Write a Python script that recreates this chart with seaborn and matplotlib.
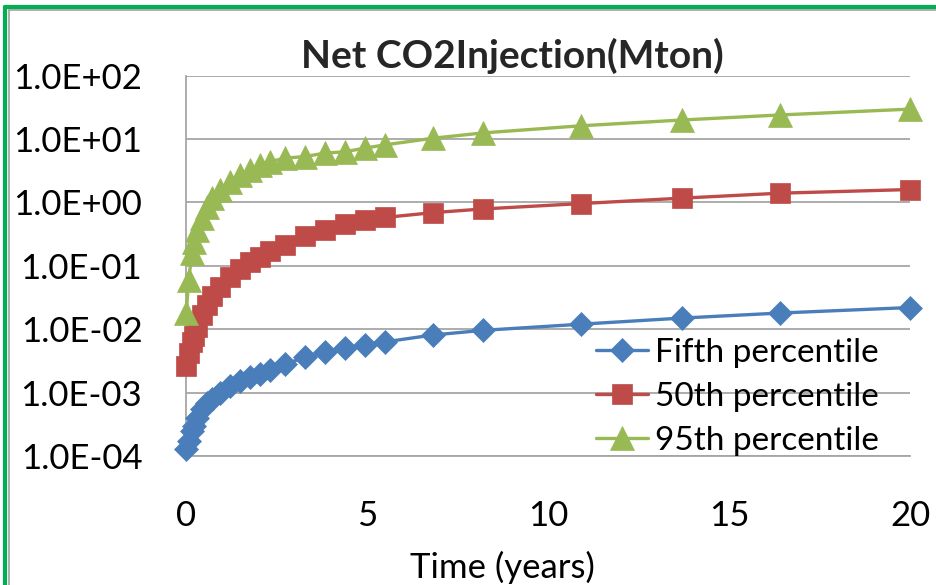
import numpy as np
import pandas as pd
import matplotlib
matplotlib.use("Agg")
import matplotlib.pyplot as plt
from matplotlib.lines import Line2D
import seaborn as sns

# ---- data ----
time_years = [0.01, 0.07, 0.17, 0.21, 0.30, 0.44, 0.58, 0.72, 0.94, 1.22, 1.50, 1.77,
              2.05, 2.32, 2.73, 3.28, 3.83, 4.38, 4.94, 5.49, 6.81, 8.20, 10.9, 13.7,
              16.4, 20.0]
fifth_pct = [1.3e-4, 1.7e-4, 2.5e-4, 3.0e-4, 4.0e-4, 5.5e-4, 6.8e-4, 8.0e-4, 1.0e-3,
             1.25e-3, 1.5e-3, 1.75e-3, 2.0e-3, 2.3e-3, 2.8e-3, 3.6e-3, 4.3e-3, 5.0e-3,
             5.7e-3, 6.3e-3, 8.1e-3, 9.6e-3, 1.2e-2, 1.5e-2, 1.8e-2, 2.2e-2]
p50 = [0.0026, 0.0042, 0.0062, 0.0078, 0.011, 0.017, 0.024, 0.033, 0.046, 0.066,
       0.090, 0.115, 0.14, 0.17, 0.21, 0.30, 0.37, 0.45, 0.52, 0.58, 0.69, 0.79,
       0.96, 1.17, 1.40, 1.60]
p95 = [0.018, 0.060, 0.158, 0.24, 0.37, 0.56, 0.86, 1.17, 1.58, 2.14, 2.7, 3.25,
       3.9, 4.4, 5.0, 5.3, 6.0, 6.3, 7.2, 8.1, 10.3, 12.5, 16.2, 20.0, 24.0, 29.7]
series_names = ["Fifth percentile", "50th percentile", "95th percentile"]
y_tick_values = [1e-4, 1e-3, 1e-2, 1e-1, 1e0, 1e1, 1e2]
y_tick_labels = ["1.0E-04", "1.0E-03", "1.0E-02", "1.0E-01", "1.0E+00", "1.0E+01", "1.0E+02"]
x_tick_values = [0, 5, 10, 15, 20]

sns.set_style("white")
plt.rcParams["font.family"] = ["Lato", "DejaVu Sans"]

W, H = 936, 585
fig = plt.figure(figsize=(W / 100, H / 100), dpi=100)
ax = fig.add_axes([186 / W, 1 - 456 / H, (910 - 186) / W, (456 - 75.7) / H])

colors = ["#4A7EBB", "#BE4B48", "#98B954"]
markers = ["D", "s", "^"]
msizes = [12.5, 14.5, 17]
values = [fifth_pct, p50, p95]
for name, vals, c, m, ms in zip(series_names, values, colors, markers, msizes):
    df = pd.DataFrame({"Time": time_years, "Value": vals})
    sns.lineplot(data=df, x="Time", y="Value", ax=ax, color=c, marker=m,
                 markersize=ms, markeredgecolor=c, markeredgewidth=0.5,
                 linewidth=2.4, label=name, clip_on=False)

ax.set_yscale("log")
ax.set_xlim(0, 20)
ax.set_ylim(1e-4, 1e2)
ax.set_yticks(y_tick_values)
ax.set_yticklabels(y_tick_labels)
ax.yaxis.set_minor_locator(matplotlib.ticker.NullLocator())
ax.set_xticks(x_tick_values)
ax.set_xticklabels([str(v) for v in x_tick_values])

grid_c = "#A6A6A6"
ax.grid(axis="y", color=grid_c, linewidth=1.3)
ax.grid(axis="x", visible=False)
ax.set_axisbelow(True)
for s in ["top", "right"]:
    ax.spines[s].set_visible(False)
for s in ["left", "bottom"]:
    ax.spines[s].set_color(grid_c)
    ax.spines[s].set_linewidth(1.3)
    ax.spines[s].set_zorder(0.5)
ax.tick_params(axis="both", which="major", direction="out", length=9.5,
               width=1.3, color=grid_c, labelsize=25, labelcolor="black")
ax.tick_params(axis="x", pad=22)
ax.tick_params(axis="y", pad=22)
ax.set_ylabel("")
ax.set_xlabel("Time (years)", fontsize=25, color="black")
ax.xaxis.set_label_coords((502 - 186) / (910 - 186), (456 - 578) / (456 - 75.7))
ax.xaxis.label.set_va("baseline")

fig.text(512 / W, 1 - 68.3 / H, "Net CO2Injection(Mton)", fontsize=28,
         fontweight="bold", ha="center", va="baseline")

leg = ax.legend(loc="upper left", bbox_to_anchor=(596 / W, 1 - 338 / H),
                bbox_transform=fig.transFigure, frameon=False, fontsize=24,
                handlelength=1.55, handletextpad=0.22, borderpad=0,
                borderaxespad=0, labelspacing=0.42)
for t in leg.get_texts():
    t.set_color("black")

# chart border (green outer, grey inner)
fig.add_artist(Line2D([4.5 / W, 4.5 / W], [-0.1, 1 - 6.5 / H], color="#00B050",
                      linewidth=3, transform=fig.transFigure))
fig.add_artist(Line2D([4.5 / W, 1.1], [1 - 6.5 / H, 1 - 6.5 / H], color="#00B050",
                      linewidth=3, transform=fig.transFigure))
fig.add_artist(Line2D([8.5 / W, 8.5 / W], [-0.1, 1 - 10 / H], color="#A0A0A0",
                      linewidth=1.2, transform=fig.transFigure))
fig.add_artist(Line2D([8.5 / W, 1.1], [1 - 10 / H, 1 - 10 / H], color="#A0A0A0",
                      linewidth=1.2, transform=fig.transFigure))

fig.savefig("out.png", dpi=100)
